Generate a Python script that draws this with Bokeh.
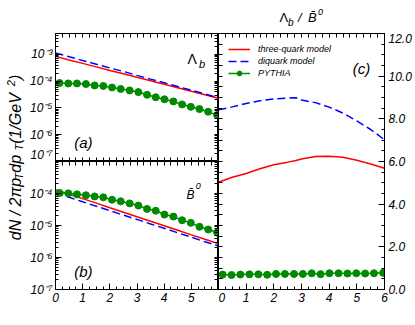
import math
from bokeh.plotting import figure
from bokeh.layouts import row, column
from bokeh.models import Range1d, LogAxis, LinearAxis, FixedTicker, Label, Legend, LegendItem
from bokeh.embed import file_html
from bokeh.resources import INLINE

FONT = "Liberation Sans"
GREEN = "#008a00"

# ---------------- data ----------------
pt = [0.0, 0.5, 1.0, 1.5, 2.0, 2.5, 3.0, 3.5, 4.0, 4.5, 5.0, 5.5, 6.0]
lb_three = [8.4e-4, 6.2e-4, 4.6e-4, 3.4e-4, 2.5e-4, 1.9e-4, 1.4e-4, 1.04e-4, 7.7e-5, 5.7e-5, 4.2e-5, 3.1e-5, 2.3e-5]
lb_diquark = [1.12e-3, 8.2e-4, 5.9e-4, 4.3e-4, 3.1e-4, 2.3e-4, 1.64e-4, 1.19e-4, 8.7e-5, 6.3e-5, 4.6e-5, 3.3e-5, 2.4e-5]
b0_three = [1.32e-4, 9.5e-5, 6.9e-5, 5.0e-5, 3.6e-5, 2.6e-5, 1.88e-5, 1.36e-5, 9.8e-6, 7.1e-6, 5.1e-6, 3.7e-6, 2.7e-6]
b0_diquark = [1.05e-4, 7.6e-5, 5.5e-5, 4.0e-5, 2.9e-5, 2.1e-5, 1.55e-5, 1.12e-5, 8.2e-6, 5.9e-6, 4.3e-6, 3.1e-6, 2.3e-6]

pythia_pt = [0.15, 0.47, 0.79, 1.12, 1.44, 1.76, 2.08, 2.40, 2.73, 3.05, 3.37, 3.69, 4.01, 4.34, 4.66, 4.98, 5.30, 5.62, 5.95]
lb_pythia = [8.5e-5, 8.2e-5, 8.2e-5, 7.8e-5, 6.9e-5, 6.6e-5, 5.8e-5, 5.1e-5, 4.5e-5, 3.9e-5, 3.1e-5, 2.5e-5, 2.1e-5, 1.75e-5, 1.35e-5, 1.1e-5, 9.1e-6, 7.2e-6, 5.4e-6]
b0_pythia = [1.04e-4, 1.01e-4, 9.4e-5, 8.8e-5, 8.1e-5, 7.6e-5, 6.4e-5, 5.7e-5, 4.9e-5, 4.2e-5, 3.3e-5, 2.9e-5, 2.2e-5, 1.9e-5, 1.46e-5, 1.21e-5, 9.1e-6, 7.5e-6, 6.0e-6]
ratio_pythia = [0.70, 0.68, 0.70, 0.71, 0.71, 0.69, 0.73, 0.73, 0.73, 0.73, 0.76, 0.72, 0.76, 0.76, 0.75, 0.76, 0.75, 0.76, 0.78]

ratio_pt = [0.0, 0.5, 1.0, 1.5, 2.0, 2.5, 2.8, 3.0, 3.5, 4.0, 4.5, 5.0, 5.5, 6.0]
ratio_three = [5.03, 5.26, 5.44, 5.66, 5.85, 5.97, 6.05, 6.12, 6.23, 6.25, 6.20, 6.06, 5.88, 5.68]
ratio_diquark = [8.42, 8.56, 8.72, 8.85, 8.93, 8.97, 8.99, 8.88, 8.76, 8.55, 8.27, 7.90, 7.50, 7.02]

x_major = [0, 1, 2, 3, 4, 5, 6]
y_major = [1e-7, 1e-6, 1e-5, 1e-4, 1e-3]
y_major_labels = ["10\u207b\u2077", "10\u207b\u2076", "10\u207b\u2075", "10\u207b\u2074", "10\u207b\u00b3"]
r_major = [0, 2, 4, 6, 8, 10, 12]
r_major_labels = ["0.0", "2.0", "4.0", "6.0", "8.0", "10.0", "12.0"]
legend_labels = ["three-quark model", "diquark model", "PYTHIA"]

# tick positions (layout only)
x_minor = [i * 0.25 for i in range(25)]
y_minor = [m * 10.0 ** e for e in range(-7, -1) for m in range(2, 10)]
r_minor = [i * 0.5 for i in range(25)]


def tick_style(ax):
    ax.axis_line_color = "black"
    ax.axis_line_width = 1
    ax.major_tick_line_color = "black"
    ax.minor_tick_line_color = "black"
    ax.major_tick_in = 6
    ax.major_tick_out = 0
    ax.minor_tick_out = 0
    ax.axis_label = None


def labelled_axis(ax, ticks, minor, overrides=None, standoff=3):
    ax.ticker = FixedTicker(ticks=ticks, minor_ticks=minor)
    tick_style(ax)
    ax.minor_tick_in = 3
    ax.major_label_text_font = FONT
    ax.major_label_text_font_style = "italic"
    ax.major_label_text_color = "black"
    ax.major_label_text_font_size = "12px"
    ax.major_label_standoff = standoff
    if overrides:
        ax.major_label_overrides = overrides


def plain_axis(ax, ticks, minor):
    # an axis that only carries inward ticks (no labels at all)
    ax.ticker = FixedTicker(ticks=[], minor_ticks=sorted(set(list(ticks) + list(minor))))
    tick_style(ax)
    ax.minor_tick_in = 4
    return ax


def base_style(p):
    p.grid.grid_line_color = None
    p.outline_line_color = "black"
    p.background_fill_color = "white"
    p.border_fill_color = "white"


def blank_fig(w, h):
    f = figure(width=w, height=h, x_range=Range1d(0, w), y_range=Range1d(0, h),
               x_axis_type=None, y_axis_type=None, output_backend="svg",
               toolbar_location=None, min_border=0)
    f.grid.grid_line_color = None
    f.outline_line_color = None
    f.background_fill_color = "white"
    f.border_fill_color = "white"
    return f


def put(p, anchor, px, py, text, size, style="italic", angle=0.0):
    dx, dy, apx, apy = anchor
    p.add_layout(Label(x=dx, y=dy, x_offset=px - apx, y_offset=apy - py, text=text,
                       text_font=FONT, text_font_size=f"{int(size)}px", text_font_style=style,
                       text_align="left", text_baseline="alphabetic", text_color="black",
                       angle=angle))


ylab = dict(zip(y_major, y_major_labels))

# ---------------- panel (a) ----------------
pa = figure(width=192, height=161, x_range=Range1d(0, 6), y_range=Range1d(1e-7, 6e-3),
            y_axis_type="log", output_backend="svg", toolbar_location=None,
            min_border_left=27, min_border_right=0, min_border_top=33, min_border_bottom=0)
base_style(pa)
labelled_axis(pa.yaxis[0], y_major, y_minor, ylab, 3)
plain_axis(pa.xaxis[0], x_major, x_minor)
pa.add_layout(plain_axis(LogAxis(), y_major, y_minor), "right")
pa.add_layout(plain_axis(LinearAxis(), x_major, x_minor), "above")
pa.line(pt, lb_three, line_color="red", line_width=1.5)
pa.line(pt, lb_diquark, line_color="blue", line_width=1.5, line_dash="8 4")
pa.line(pythia_pt, lb_pythia, line_color=GREEN, line_width=1.5)
pa.scatter(pythia_pt, lb_pythia, size=7, color=GREEN)
A = (0, 1e-7, 53, 161)
put(pa, A, 71.7, 142, "(a)", 15)
put(pa, A, 185, 58, "\u039b", 14, "normal")
put(pa, A, 196.5, 63, "b", 11)

# ---------------- panel (b) ----------------
pb = figure(width=192, height=164, x_range=Range1d(0, 6), y_range=Range1d(1e-7, 1e-3),
            y_axis_type="log", output_backend="svg", toolbar_location=None,
            min_border_left=27, min_border_right=0, min_border_top=0, min_border_bottom=36)
base_style(pb)
labelled_axis(pb.yaxis[0], y_major[:-1], y_minor, ylab, 3)
labelled_axis(pb.xaxis[0], x_major[:-1], x_minor, None, 3)
pb.add_layout(plain_axis(LogAxis(), y_major, y_minor), "right")
pb.add_layout(plain_axis(LinearAxis(), x_major, x_minor), "above")
pb.line(pt, b0_three, line_color="red", line_width=1.5)
pb.line(pt, b0_diquark, line_color="blue", line_width=1.5, line_dash="8 4")
pb.line(pythia_pt, b0_pythia, line_color=GREEN, line_width=1.5)
pb.scatter(pythia_pt, b0_pythia, size=7, color=GREEN)
B = (0, 1e-7, 53, 289)
put(pb, B, 71.7, 271, "(b)", 15)
put(pb, B, 184, 194, "B\u0304", 12)
put(pb, B, 193.3, 185.3, "0", 9)
put(pb, B, 101.7, 316, "p", 15)
put(pb, B, 110.8, 319.5, "T", 10)
put(pb, B, 128.3, 316, "(GeV)", 15)

# ---------------- panel (c) ----------------
pc = figure(width=197, height=292, x_range=Range1d(0, 6), y_range=Range1d(0, 12),
            y_axis_location="right", output_backend="svg", toolbar_location=None,
            min_border_left=0, min_border_right=31, min_border_top=0, min_border_bottom=36)
base_style(pc)
labelled_axis(pc.yaxis[0], r_major, r_minor, dict(zip(r_major, r_major_labels)), 4)
labelled_axis(pc.xaxis[0], x_major, x_minor, None, 3)
pc.add_layout(plain_axis(LinearAxis(), r_major, r_minor), "left")
pc.add_layout(plain_axis(LinearAxis(), x_major, x_minor), "above")
r1 = pc.line(ratio_pt, ratio_three, line_color="red", line_width=1.5)
r2 = pc.line(ratio_pt, ratio_diquark, line_color="blue", line_width=1.5, line_dash="8 4")
r3 = pc.line(pythia_pt, ratio_pythia, line_color=GREEN, line_width=1.5)
r4 = pc.scatter(pythia_pt, ratio_pythia, size=7, color=GREEN)
legend = Legend(items=[LegendItem(label=legend_labels[0], renderers=[r1]),
                       LegendItem(label=legend_labels[1], renderers=[r2]),
                       LegendItem(label=legend_labels[2], renderers=[r3, r4])],
                location="top_left", border_line_color=None, background_fill_alpha=0,
                label_text_font=FONT, label_text_font_style="italic", label_text_font_size="9px",
                label_text_color="black", glyph_width=22, glyph_height=12, label_height=12,
                spacing=0, padding=11, margin=10, label_standoff=8)
pc.add_layout(legend)
C = (0, 0, 218, 289)
put(pc, C, 352.3, 68.2, "(c)", 15)
put(pc, C, 270, 316, "p", 15)
put(pc, C, 278.8, 319.5, "T", 10)
put(pc, C, 292.3, 316, "(GeV)", 15)

# ---------------- ratio title strip (above panel c) ----------------
ptitle = blank_fig(197, 33)
T = (0, 0, 218, 33)
put(ptitle, T, 279, 16.7, "\u039b", 13, "normal")
put(ptitle, T, 287.5, 22, "b", 10)
put(ptitle, T, 297.5, 17, "/", 13)
put(ptitle, T, 307.5, 16.7, "B\u0304", 13)
put(ptitle, T, 317.5, 11, "0", 9)

# ---------------- y-axis title strip ----------------
py = blank_fig(26, 325)
Y = (0, 0, 0, 325)
WID = {' ': .278, '(': .333, ')': .333, '/': .278, 'd': .556, 'N': .722, '2': .556,
       '\u03c0': .573, 'p': .556, 'T': .611, '1': .556, 'G': .778, 'e': .556, 'V': .667}
# (text, font size, baseline shift to the right, gap before the segment)
segs = [("dN / 2\u03c0p", 16, 0, 0), ("T", 11, 3.5, 0), (" dp", 16, 0, 0), ("T", 11, 3.5, 0),
        ("  (1/GeV", 16, 0, 0), ("2", 11, -5, -2), (")", 16, 0, 0)]
total = sum(sum(WID.get(c, .556) for c in t) * s + g for t, s, _, g in segs)
ycur = 157 + total / 2
bx = 15
for t, s, sh, g in segs:
    ycur -= g
    put(py, Y, bx + sh, ycur, t, s, "italic", math.pi / 2)
    ycur -= sum(WID.get(c, .556) for c in t) * s

layout = row(py, column(pa, pb), column(ptitle, pc))
open("out.html", "w").write(file_html(layout, INLINE))
